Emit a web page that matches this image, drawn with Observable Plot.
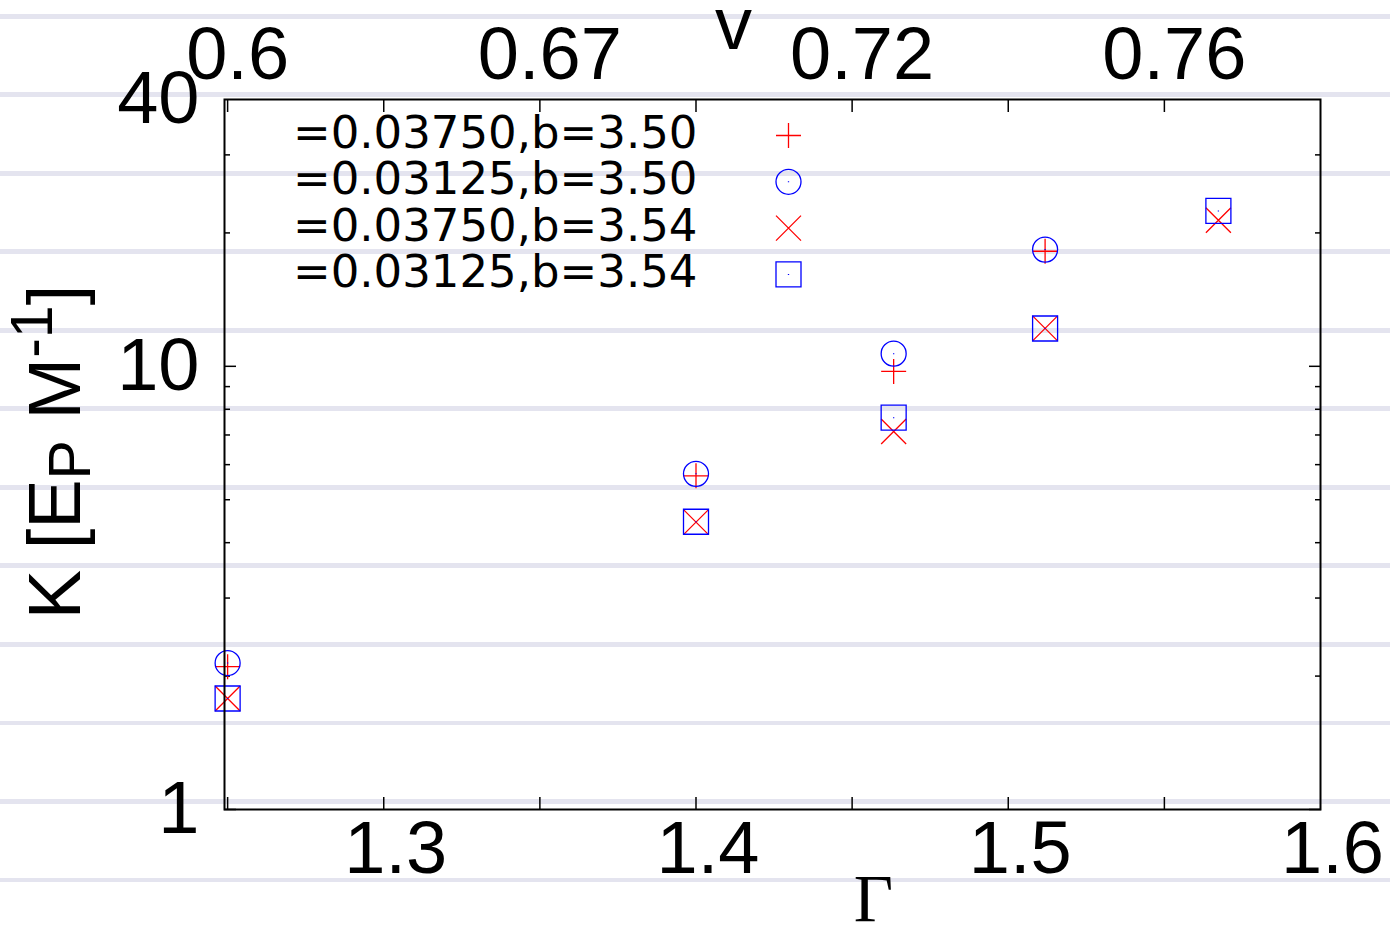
<!DOCTYPE html>
<html><head><meta charset="utf-8">
<script src="https://cdn.jsdelivr.net/npm/d3@7"></script>
<script src="https://cdn.jsdelivr.net/npm/@observablehq/plot@0.6"></script>
<style>
html,body{margin:0;padding:0;width:1390px;height:925px;overflow:hidden;background:#fff;}
#bg{position:absolute;left:0;top:0;width:1390px;height:925px;
background:repeating-linear-gradient(to bottom, transparent 0px, transparent 14px, #e4e4ef 14px, #e4e4ef 19px, transparent 19px, transparent 78.5px);}
#chart{position:absolute;left:0;top:0;}
</style></head><body><div id="bg"></div><div id="chart"></div>
<script>
// ---- data ----
const gamma = [1.25, 1.4, 1.4633, 1.5118, 1.5673];
const kD0375b350 = [2.10, 5.66, 9.74, 18.18];
const kD03125b350 = [2.14, 5.72, 10.68, 18.34];
const kD0375b354 = [1.78, 4.45, 7.13, 12.18, 21.36];
const kD03125b354 = [1.78, 4.46, 7.66, 12.17, 22.42];
const seriesLabels = ["=0.03750,b=3.50", "=0.03125,b=3.50", "=0.03750,b=3.54", "=0.03125,b=3.54"];
const xTickVals = [1.25, 1.3, 1.35, 1.4, 1.45, 1.5, 1.55];
const xLabelVals = [1.3, 1.4, 1.5, 1.6];
const topTickVals = [1.25, 1.35, 1.45, 1.55];
const topTickLabels = ["0.6", "0.67", "0.72", "0.76"];
const yMajorTicks = [1, 10];
const yMinorTicks = [2, 3, 4, 5, 6, 7, 8, 9, 20, 30];
const yLabelVals = [1, 10, 40];

// ---- symbols ----
const sym = fn => ({draw(ctx, size) { const r = Math.sqrt(size / Math.PI); fn(ctx, r); }});
const plusSym = sym((c, r) => { c.moveTo(-r, 0); c.lineTo(r, 0); c.moveTo(0, -r); c.lineTo(0, r); });
const circleSym = sym((c, r) => { c.moveTo(r, 0); c.arc(0, 0, r, 0, 2 * Math.PI); c.moveTo(0, -0.5); c.lineTo(0, 0.5); });
const timesSym = sym((c, r) => { c.moveTo(-r, -r); c.lineTo(r, r); c.moveTo(-r, r); c.lineTo(r, -r); });
const squareSym = sym((c, r) => { c.moveTo(-r, -r); c.lineTo(r, -r); c.lineTo(r, r); c.lineTo(-r, r); c.closePath(); c.moveTo(0, -0.5); c.lineTo(0, 0.5); });

const series = [
  {label: seriesLabels[0], values: kD0375b350, color: "#ff0000", symbol: plusSym},
  {label: seriesLabels[1], values: kD03125b350, color: "#0000ff", symbol: circleSym},
  {label: seriesLabels[2], values: kD0375b354, color: "#ff0000", symbol: timesSym},
  {label: seriesLabels[3], values: kD03125b354, color: "#0000ff", symbol: squareSym}
];

const dataMarks = series.map(s => Plot.dot(
  s.values.map((k, i) => ({g: gamma[i], k})),
  {x: "g", y: "k", symbol: s.symbol, r: 12.5, stroke: s.color, fill: "none", strokeWidth: 1.3}
));

const legendMarks = series.flatMap((s, i) => [
  Plot.text([s.label], {text: d => d, frameAnchor: "top-left", dx: 473, dy: 48 + i * 46.5,
    textAnchor: "end", lineAnchor: "bottom", fontFamily: "'DejaVu Sans', sans-serif", fontSize: 45, fill: "black"}),
  Plot.dot([0], {frameAnchor: "top-left", dx: 564, dy: 36 + i * 46.3, symbol: s.symbol, r: 12.5,
    stroke: s.color, fill: "none", strokeWidth: 1.3})
]);

const svg = Plot.plot({
  width: 1390, height: 925,
  marginLeft: 224, marginRight: 70, marginTop: 99, marginBottom: 116,
  x: {domain: [1.249, 1.6], axis: null, label: null},
  y: {type: "log", domain: [1, 40], axis: null, label: null},
  style: {background: "transparent", fontFamily: "'Liberation Sans', Arial, sans-serif", fontSize: "74px", color: "black", overflow: "visible"},
  marks: [
    Plot.axisX(xTickVals, {anchor: "bottom", label: null, tickSize: -12, tickFormat: () => "", strokeWidth: 1.5}),
    Plot.axisX(xTickVals, {anchor: "top", label: null, tickSize: -12, tickFormat: () => "", strokeWidth: 1.5}),
    Plot.axisY(yMajorTicks, {anchor: "left", label: null, tickSize: -12, tickFormat: () => "", strokeWidth: 1.5}),
    Plot.axisY(yMajorTicks, {anchor: "right", label: null, tickSize: -12, tickFormat: () => "", strokeWidth: 1.5}),
    Plot.axisY(yMinorTicks, {anchor: "left", label: null, tickSize: -6, tickFormat: () => "", strokeWidth: 1.5}),
    Plot.axisY(yMinorTicks, {anchor: "right", label: null, tickSize: -6, tickFormat: () => "", strokeWidth: 1.5}),
    Plot.axisX(xLabelVals, {anchor: "bottom", label: null, tickSize: 0, tickPadding: 10.5, dx: 12, tickFormat: d => d.toFixed(1), fill: "black"}),
    Plot.axisX(topTickVals, {anchor: "top", label: null, tickSize: 0, tickPadding: 21, dx: 10, tickFormat: (d, i) => topTickLabels[i], fill: "black"}),
    Plot.axisY(yLabelVals, {anchor: "left", label: null, tickSize: 0, tickPadding: 25, tickFormat: d => String(d), fill: "black"}),
    Plot.text(["Γ"], {text: d => d, frameAnchor: "bottom", dx: 101, dy: 111, lineAnchor: "bottom",
      fontFamily: "'Liberation Serif', serif", fontSize: 68, fill: "black"}),
    Plot.text(["v"], {text: d => d, frameAnchor: "top", dx: -39, dy: -51, lineAnchor: "bottom", fill: "black"}),
    ...dataMarks,
    ...legendMarks,
    Plot.frame({stroke: "black", strokeWidth: 2})
  ]
});

// rotated y-axis label with sub/superscripts
const yl = d3.select(svg).append("text")
  .attr("transform", "translate(80,452) rotate(-90)")
  .attr("text-anchor", "middle")
  .attr("font-family", "'Liberation Sans', Arial, sans-serif")
  .attr("font-size", 74)
  .attr("fill", "black");
yl.append("tspan").text("K [E");
yl.append("tspan").attr("font-size", 59).attr("dy", 10).text("P");
yl.append("tspan").attr("dy", -10).text(" M");
yl.append("tspan").attr("font-size", 59).attr("dy", -28).text("-1");
yl.append("tspan").attr("dy", 28).text("]");

document.getElementById("chart").appendChild(svg);
</script></body></html>
